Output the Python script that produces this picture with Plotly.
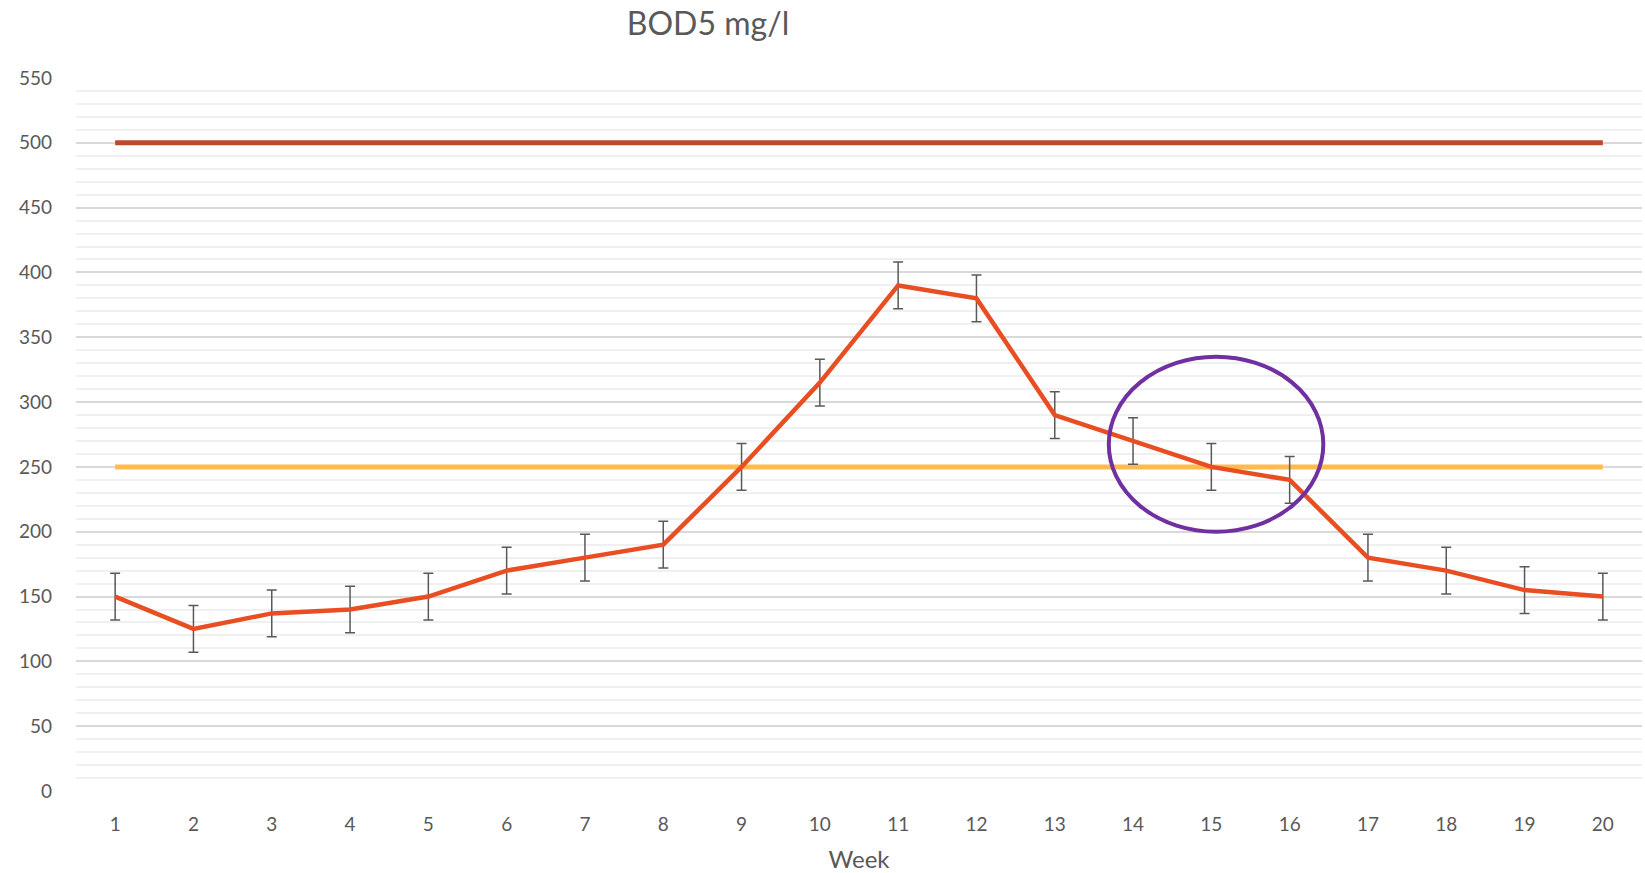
import plotly.graph_objects as go

weeks = list(range(1, 21))
bod5 = [150, 125, 137, 140, 150, 170, 180, 190, 250, 315, 390, 380, 290, 270, 250, 240, 180, 170, 155, 150]
error = [18] * 20
upper_limit = [500] * 20
target_limit = [250] * 20

fig = go.Figure()
fig.add_trace(go.Scatter(x=weeks, y=upper_limit, mode="lines",
                         line=dict(color="#BB4A2A", width=5), hoverinfo="skip", showlegend=False))
fig.add_trace(go.Scatter(x=weeks, y=target_limit, mode="lines",
                         line=dict(color="#FDBA4D", width=5), hoverinfo="skip", showlegend=False))
fig.add_trace(go.Scatter(x=weeks, y=bod5, mode="lines",
                         line=dict(color="#E94E22", width=4.5),
                         error_y=dict(type="data", array=error, visible=True,
                                      color="#595959", thickness=1.5, width=5),
                         showlegend=False))

fig.add_shape(type="circle", xref="x", yref="y",
              x0=13.69, x1=16.43, y0=200, y1=335,
              line=dict(color="#7030A0", width=4))

W, H = 1645, 873
fig.update_layout(
    width=W, height=H,
    margin=dict(l=76, r=3, t=78, b=82),
    plot_bgcolor="white", paper_bgcolor="white",
    title=dict(text="BOD5 mg/l", x=708/W, xanchor="center", y=1-24/H, yanchor="middle",
               font=dict(family="Lato, Open Sans, sans-serif", size=32, color="#595959")),
    font=dict(family="Lato, Open Sans, sans-serif", color="#595959"),
)
fig.update_xaxes(range=[0.5, 20.5], tickmode="array", tickvals=weeks,
                 ticktext=[str(w) for w in weeks], showgrid=False, zeroline=False,
                 showline=False, ticks="", tickfont=dict(size=19, color="#595959"),
                 ticklabelstandoff=20,
                 title=dict(text="Week", font=dict(size=24, color="#595959"), standoff=18))
fig.update_yaxes(range=[0, 550], tickmode="linear", tick0=0, dtick=50,
                 showgrid=True, gridcolor="#D9D9D9", gridwidth=1.5,
                 zeroline=False, showline=False, ticks="",
                 tickfont=dict(size=19, color="#595959"), ticklabelstandoff=23,
                 minor=dict(dtick=10, showgrid=True, gridcolor="#F0F0F0", gridwidth=1.5))

fig.write_html("out.html", config={"displayModeBar": False},
               post_script="document.body.style.margin='0';")
